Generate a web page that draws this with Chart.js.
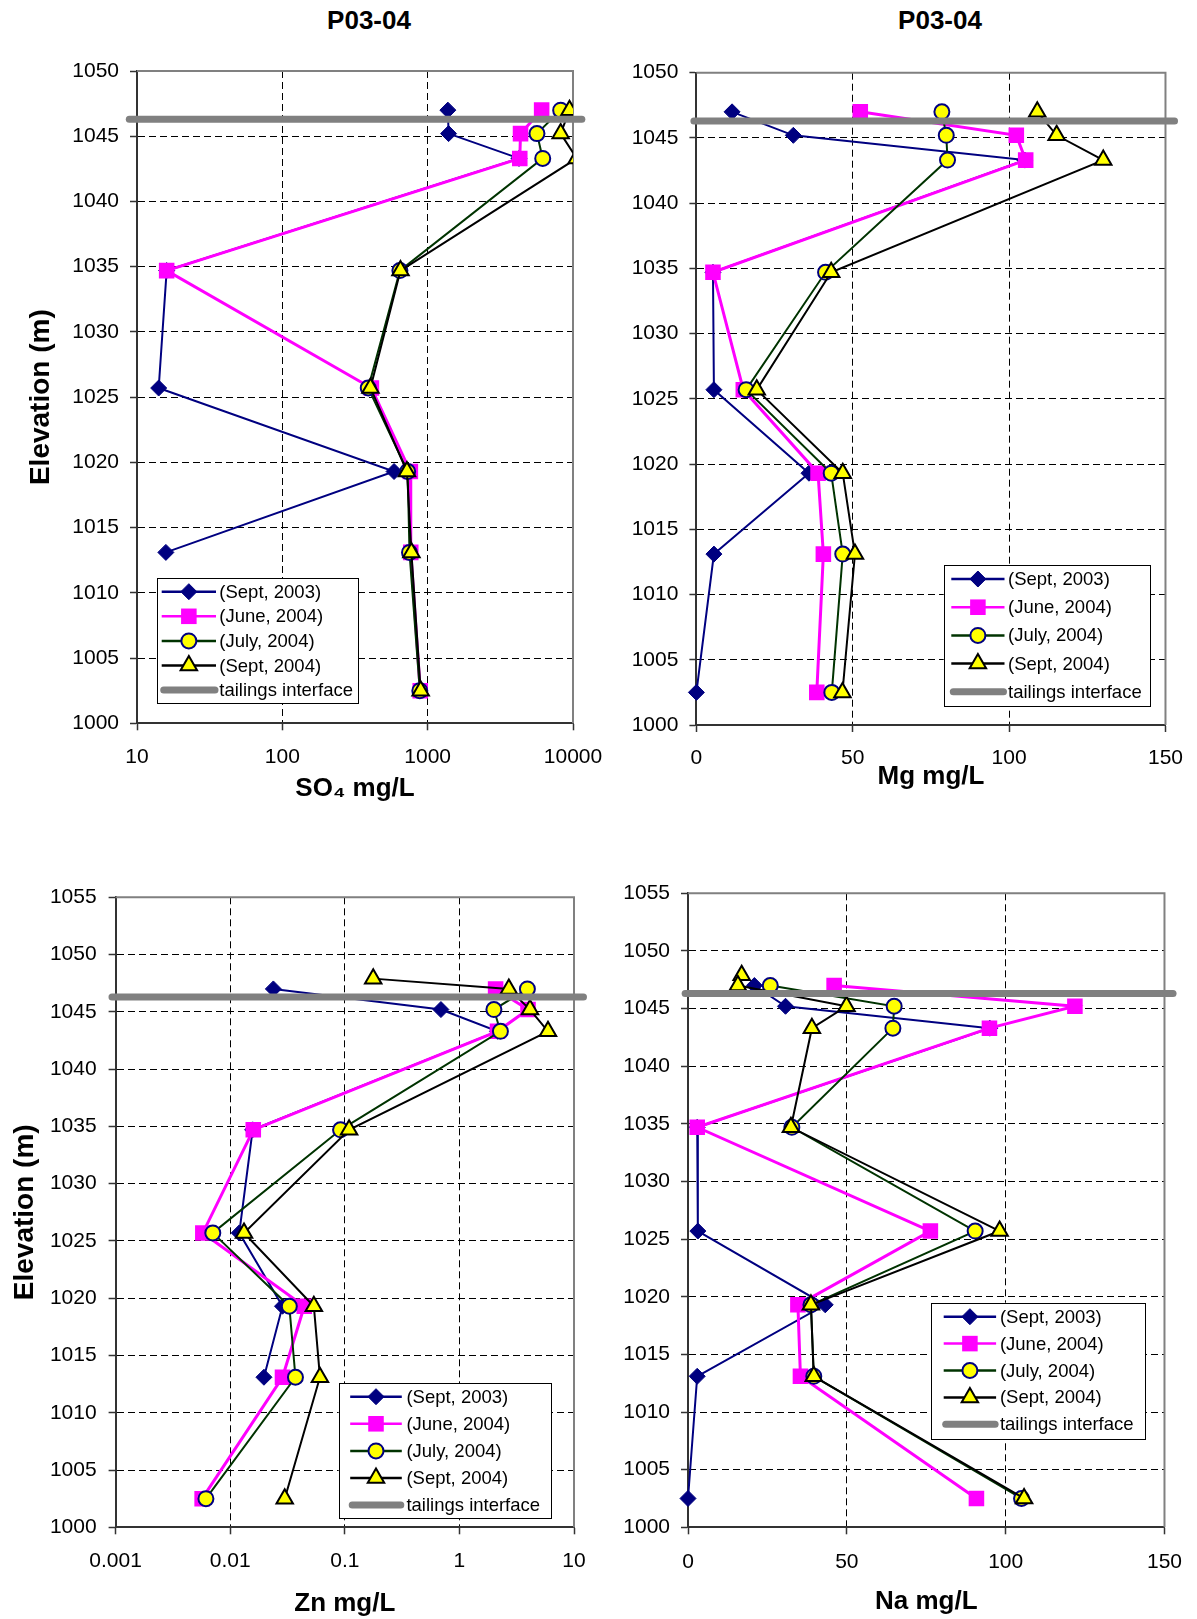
<!DOCTYPE html>
<html>
<head>
<meta charset="utf-8">
<script src="https://cdn.jsdelivr.net/npm/chart.js@4.4.0/dist/chart.umd.min.js"></script>
<style>
  body { margin: 0; background: #fff; }
  #page { position: relative; width: 1197px; height: 1619px; overflow: hidden; background: #fff; }
  canvas { position: absolute; }
  .title { position: absolute; top: 4.5px; transform: translateX(-50%); font: bold 26px "Liberation Sans", Arial, sans-serif; line-height: 30px; white-space: nowrap; }
</style>
</head>
<body>
<div id="page">
  <div class="title" style="left:369px">P03-04</div>
  <div class="title" style="left:940px">P03-04</div>
  <canvas id="so4Chart" width="640" height="810" style="left:0px;top:0px"></canvas>
  <canvas id="mgChart" width="597" height="810" style="left:600px;top:0px"></canvas>
  <canvas id="znChart" width="640" height="809" style="left:0px;top:810px"></canvas>
  <canvas id="naChart" width="597" height="809" style="left:600px;top:810px"></canvas>
</div>
<script>
// sample elevations (m), shared by every series
const elevation = [1047.9, 1047.0, 1045.2, 1043.3, 1034.7, 1025.7, 1019.3, 1013.1, 1002.5];
const interfaceElevation = 1046.3;
const seriesNames = ["(Sept, 2003)", "(June, 2004)", "(July, 2004)", "(Sept, 2004)", "tailings interface"];

// SO4 mg/L
const so4Sept03 = [null, 1377, 1393, 4250, 16, 14.1, 587, 15.8, null];
const so4June04 = [null, 6085, 4355, 4303, 16, 410, 760, 765, 889];
const so4July04 = [null, 8225, 5650, 6190, 644, 390, 728, 750, 883];
const so4Sept04 = [null, 9460, 8225, 10600, 650, 404, 720, 773, 895];
const so4Interface = [8.85, 11500];
const so4Ticks = [10, 100, 1000, 10000];
const so4TickLabels = ["10", "100", "1000", "10000"];

// Mg mg/L
const mgSept03 = [null, 11.4, 31.0, 105, 5.3, 5.6, 36.0, 5.6, 0];
const mgJune04 = [null, 52.4, 102.3, 105.3, 5.3, 15.0, 38.9, 40.6, 38.5];
const mgJuly04 = [null, 78.5, 79.9, 80.3, 41.3, 15.9, 43.1, 46.8, 43.3];
const mgSept04 = [null, 109.0, 115.2, 130.1, 43.1, 19.3, 46.8, 50.7, 46.7];
const mgInterface = [-0.8, 152.9];

// Zn mg/L
const znSept03 = [null, 0.0238, 0.69, 2.15, 0.0157, 0.012, 0.0286, 0.0197, null];
const znJune04 = [null, 2.07, 3.97, 2.15, 0.0159, 0.00577, 0.0443, 0.0286, 0.00569];
const znJuly04 = [null, 3.92, 2.0, 2.28, 0.0918, 0.00705, 0.0328, 0.0371, 0.00614];
const znSept04 = [0.177, 2.70, 4.13, 5.93, 0.109, 0.0132, 0.0537, 0.0607, 0.0299];
const znInterface = [0.00093, 12.1];
const znTicks = [0.001, 0.01, 0.1, 1, 10];
const znTickLabels = ["0.001", "0.01", "0.1", "1", "10"];

// Na mg/L
const naSept03 = [null, 20.9, 30.7, 95, 2.9, 3.1, 43.2, 2.9, 0];
const naJune04 = [null, 46.0, 121.8, 94.9, 2.9, 76.3, 34.6, 35.4, 90.8];
const naJuly04 = [null, 25.9, 64.9, 64.5, 32.7, 90.4, 38.7, 39.6, 105.0];
const naSept04 = [16.9, 15.7, 49.9, 39.0, 32.4, 98.1, 38.7, 39.6, 105.8];
const naInterface = [-0.9, 152.7];

const linTicks = [0, 50, 100, 150];
const linTickLabels = ["0", "50", "100", "150"];
const elevTicksTop = [1000, 1005, 1010, 1015, 1020, 1025, 1030, 1035, 1040, 1045, 1050];
const elevTicksBottom = [1000, 1005, 1010, 1015, 1020, 1025, 1030, 1035, 1040, 1045, 1050, 1055];

const FONT = '"Liberation Sans", Arial, sans-serif';
Chart.defaults.font.family = FONT;
Chart.defaults.color = "#000";

const styles = [
  { color: "#000080", width: 2, point: "rectRot", radius: 8, fill: "#000080", edge: "#000080", edgeWidth: 1 },
  { color: "#FF00FF", width: 3, point: "rect", radius: 11, fill: "#FF00FF", edge: "#FF00FF", edgeWidth: 0 },
  { color: "#003300", width: 2, point: "circle", radius: 7.5, fill: "#FFFF00", edge: "#000080", edgeWidth: 2 },
  { color: "#000000", width: 2, point: "triangle", radius: 9.5, fill: "#FFFF00", edge: "#000000", edgeWidth: 2 },
];

function points(vals) {
  return vals.map((v, i) => ({ x: v, y: elevation[i] })).filter(p => p.x !== null);
}

function makeDatasets(series, iface) {
  const ds = series.map((vals, k) => ({
    label: seriesNames[k],
    data: points(vals),
    showLine: true,
    borderColor: styles[k].color,
    borderWidth: styles[k].width,
    pointStyle: styles[k].point,
    pointRadius: styles[k].radius,
    pointBackgroundColor: styles[k].fill,
    pointBorderColor: styles[k].edge,
    pointBorderWidth: styles[k].edgeWidth,
    clip: { left: 12, top: 0, right: 0, bottom: 0 },
    order: 4 - k,
  }));
  ds.push({
    label: seriesNames[4],
    data: iface.map(v => ({ x: v, y: interfaceElevation })),
    showLine: true,
    borderColor: "#808080",
    borderWidth: 7,
    borderCapStyle: "round",
    pointRadius: 0,
    clip: false,
    order: 0,
  });
  return ds;
}

// gray top/right border of the plot area
const framePlugin = {
  id: "frame",
  beforeDatasetsDraw(chart) {
    const { ctx, chartArea: a } = chart;
    ctx.save();
    ctx.strokeStyle = "#808080";
    ctx.lineWidth = 2;
    ctx.beginPath();
    ctx.moveTo(a.left, a.top);
    ctx.lineTo(a.right, a.top);
    ctx.lineTo(a.right, a.bottom);
    ctx.stroke();
    ctx.restore();
  }
};

function boxLegend(lg) {
  return {
    id: "boxLegend",
    afterDatasetsDraw(chart) {
      const ctx = chart.ctx;
      ctx.save();
      ctx.fillStyle = "#fff";
      ctx.fillRect(lg.x, lg.y, lg.w, lg.h);
      ctx.strokeStyle = "#000";
      ctx.lineWidth = 1;
      ctx.strokeRect(Math.round(lg.x) + 0.5, Math.round(lg.y) + 0.5, Math.round(lg.w), Math.round(lg.h));
      ctx.font = "18.5px " + FONT;
      ctx.textBaseline = "middle";
      ctx.textAlign = "left";
      chart.data.datasets.forEach((ds, i) => {
        const y = lg.row0 + i * lg.rowGap;
        const thick = ds.pointRadius === 0;
        ctx.strokeStyle = ds.borderColor;
        ctx.lineWidth = thick ? 7 : 2.5;
        ctx.lineCap = ds.borderCapStyle || "butt";
        ctx.beginPath();
        if (thick) {
          ctx.moveTo(lg.s0 + 2, y);
          ctx.lineTo(lg.s1 - 1, y);
        } else {
          ctx.moveTo(lg.s0, y);
          ctx.lineTo(lg.s1, y);
        }
        ctx.stroke();
        if (!thick) {
          ctx.fillStyle = ds.pointBackgroundColor;
          ctx.strokeStyle = ds.pointBorderColor;
          ctx.lineWidth = ds.pointBorderWidth;
          Chart.helpers.drawPoint(ctx, {
            pointStyle: ds.pointStyle, radius: ds.pointRadius, rotation: 0, borderWidth: ds.pointBorderWidth
          }, (lg.s0 + lg.s1) / 2, y);
        }
        ctx.fillStyle = "#000";
        ctx.fillText(ds.label, lg.tx, y + 1);
      });
      ctx.restore();
    }
  };
}

function drawPanel(cfg) {
  const canvas = document.getElementById(cfg.id);
  const ox = parseFloat(canvas.style.left);
  const oy = parseFloat(canvas.style.top);
  const plot = {
    left: cfg.plot.left - ox, right: cfg.plot.right - ox,
    top: cfg.plot.top - oy, bottom: cfg.plot.bottom - oy
  };
  const lg = {
    x: cfg.legend.x - ox, y: cfg.legend.y - oy, w: cfg.legend.w, h: cfg.legend.h,
    row0: cfg.legend.row0 - oy, rowGap: cfg.legend.rowGap,
    s0: cfg.legend.s0 - ox, s1: cfg.legend.s1 - ox, tx: cfg.legend.tx - ox
  };
  const grid = { color: "#000", lineWidth: 1, tickLength: 7, tickColor: "#333", tickWidth: 1.5 };
  const border = { color: "#333", width: 2, dash: [7, 4] };

  new Chart(canvas, {
    type: "scatter",
    data: { datasets: makeDatasets(cfg.series, cfg.iface) },
    options: {
      responsive: false,
      animation: false,
      events: [],
      layout: { padding: { left: 0, top: plot.top, right: canvas.width - plot.right, bottom: 0 } },
      plugins: { legend: { display: false }, tooltip: { enabled: false } },
      scales: {
        x: {
          type: cfg.log ? "logarithmic" : "linear",
          min: cfg.xTicks[0],
          max: cfg.xTicks[cfg.xTicks.length - 1],
          afterBuildTicks: ax => { ax.ticks = cfg.xTicks.map(v => ({ value: v })); },
          afterFit: ax => { ax.height = canvas.height - plot.bottom; },
          ticks: {
            callback: (v, i) => cfg.xTickLabels[i],
            font: { size: 21 }, color: "#000", padding: cfg.xPad, maxRotation: 0, autoSkip: false
          },
          grid: grid,
          border: border,
          title: {
            display: true, text: cfg.xTitle, color: "#000",
            font: { size: 26, weight: "bold" }, padding: { top: 0, bottom: cfg.xTitlePad }
          }
        },
        y: {
          type: "linear",
          min: cfg.yTicks[0],
          max: cfg.yTicks[cfg.yTicks.length - 1],
          afterBuildTicks: ax => { ax.ticks = cfg.yTicks.map(v => ({ value: v })); },
          afterFit: ax => { ax.width = plot.left; },
          ticks: { callback: v => String(v), font: { size: 21 }, color: "#000", padding: cfg.yPad },
          grid: grid,
          border: border,
          title: {
            display: !!cfg.yTitle, text: "Elevation (m)", color: "#000",
            font: { size: 28, weight: "bold" }, padding: { top: cfg.yTitlePad || 0, bottom: 0 }
          }
        }
      }
    },
    plugins: [framePlugin, boxLegend(lg)]
  });
}

drawPanel({
  id: "so4Chart", log: true,
  series: [so4Sept03, so4June04, so4July04, so4Sept04], iface: so4Interface,
  xTicks: so4Ticks, xTickLabels: so4TickLabels, yTicks: elevTicksTop,
  plot: { left: 137, right: 573, top: 71, bottom: 723.3 },
  xTitle: "SO\u2084 mg/L", xTitlePad: 6, xPad: 14, yPad: 11, yTitle: true, yTitlePad: 24,
  legend: { x: 157.3, y: 578.3, w: 201, h: 125, row0: 591.7, rowGap: 24.6, s0: 161.7, s1: 216, tx: 219.3 }
});

drawPanel({
  id: "mgChart", log: false,
  series: [mgSept03, mgJune04, mgJuly04, mgSept04], iface: mgInterface,
  xTicks: linTicks, xTickLabels: linTickLabels, yTicks: elevTicksTop,
  plot: { left: 696.4, right: 1176.7, top: 72.7, bottom: 725 },
  xTitle: "Mg mg/L", xTitlePad: 17.7, xPad: 14, yPad: 11, yTitle: false,
  legend: { x: 943.7, y: 565, w: 206.3, h: 141, row0: 579, rowGap: 28.2, s0: 951.3, s1: 1004.5, tx: 1008 }
});

drawPanel({
  id: "znChart", log: true,
  series: [znSept03, znJune04, znJuly04, znSept04], iface: znInterface,
  xTicks: znTicks, xTickLabels: znTickLabels, yTicks: elevTicksBottom,
  plot: { left: 115.6, right: 574, top: 897.3, bottom: 1527.3 },
  xTitle: "Zn mg/L", xTitlePad: 0, xPad: 14, yPad: 12, yTitle: true, yTitlePad: 8.9,
  legend: { x: 338.7, y: 1383.3, w: 212.4, h: 135, row0: 1396.7, rowGap: 27.1, s0: 350.2, s1: 401.8, tx: 406.4 }
});

drawPanel({
  id: "naChart", log: false,
  series: [naSept03, naJune04, naJuly04, naSept04], iface: naInterface,
  xTicks: linTicks, xTickLabels: linTickLabels, yTicks: elevTicksBottom,
  plot: { left: 688, right: 1175.2, top: 893.3, bottom: 1527.3 },
  xTitle: "Na mg/L", xTitlePad: 1.7, xPad: 15, yPad: 11, yTitle: false,
  legend: { x: 931.4, y: 1302.7, w: 214.3, h: 136.3, row0: 1316.7, rowGap: 26.9, s0: 943.7, s1: 996.1, tx: 999.9 }
});
</script>
</body>
</html>
